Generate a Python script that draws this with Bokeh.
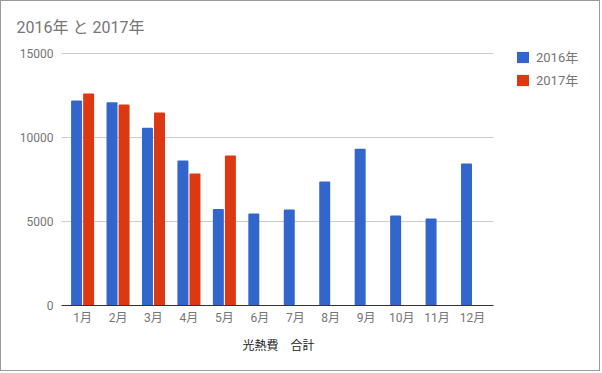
from bokeh.plotting import figure
from bokeh.models import (ColumnDataSource, Range1d, FixedTicker, Legend, LegendItem, Grid, Title)
from bokeh.transform import dodge
from bokeh.embed import file_html
from bokeh.resources import INLINE

months = ["1月", "2月", "3月", "4月", "5月", "6月", "7月", "8月", "9月", "10月", "11月", "12月"]
values_2016 = [12200, 12100, 10580, 8630, 5750, 5470, 5710, 7380, 9330, 5360, 5180, 8450]
months_2017 = ["1月", "2月", "3月", "4月", "5月"]
values_2017 = [12620, 11960, 11490, 7860, 8930]
y_ticks = [0, 5000, 10000, 15000]

FONT = "Roboto, 'Noto Sans CJK JP'"
GRAY = "#757575"

idx = {m: i for i, m in enumerate(months)}
src16 = ColumnDataSource(dict(x=[idx[m] for m in months], m=months, v=values_2016))
src17 = ColumnDataSource(dict(x=[idx[m] for m in months_2017], m=months_2017, v=values_2017))

# layout geometry (pixels)
W, H = 600, 371
LEFT, TOP, BOTTOM = 60, 44, 67
CAT_PX = 35.45                     # pixels per month
X0 = -0.595                        # left edge of the bar area in month units
X_AXIS_END = X0 + 432 / CAT_PX     # right edge of the bar area
X_END = X0 + (W - LEFT) / CAT_PX   # frame extends to the right for the legend
Y_TOP = 15000 * (1 + 8 / 252)

p = figure(
    width=W, height=H,
    x_range=Range1d(X0, X_END), y_range=Range1d(0, Y_TOP),
    output_backend="svg", toolbar_location=None,
    min_border_left=LEFT, min_border_right=0, min_border_top=TOP, min_border_bottom=BOTTOM,
    styles={"border": "1px solid #9a9a9a"},
)
p.outline_line_color = None

r16 = p.vbar(x=dodge("x", -0.17), top="v", width=0.31, source=src16,
             fill_color="#3366cc", line_color=None, border_radius=1)
r17 = p.vbar(x=dodge("x", 0.17), top="v", width=0.31, source=src17,
             fill_color="#dc3912", line_color=None, border_radius=1)

# title
p.title.text = "2016年 と 2017年"
p.title.align = "left"
p.title.offset = -45
p.title.text_font = FONT
p.title.text_font_size = "16px"
p.title.text_font_style = "normal"
p.title.text_color = GRAY
p.title.standoff = 18

# y axis
p.yaxis.ticker = FixedTicker(ticks=y_ticks)
p.yaxis.axis_line_color = None
p.yaxis.major_tick_line_color = None
p.yaxis.major_tick_out = 0
p.yaxis.major_tick_in = 0
p.yaxis.minor_tick_line_color = None
p.yaxis.major_label_standoff = 8
p.yaxis.major_label_text_font = FONT
p.yaxis.major_label_text_font_size = "12px"
p.yaxis.major_label_text_color = GRAY
p.ygrid.ticker = FixedTicker(ticks=y_ticks)
p.ygrid.grid_line_color = "#cccccc"
if "cross_bounds" in Grid.properties():
    p.ygrid.cross_bounds = (X0, X_AXIS_END)
p.xgrid.grid_line_color = None

# x axis
p.xaxis.ticker = FixedTicker(ticks=list(range(len(months))))
p.xaxis.major_label_overrides = {i: m for i, m in enumerate(months)}
p.xaxis.bounds = (X0, X_AXIS_END)
p.xaxis.axis_line_color = "#333333"
p.xaxis.major_tick_line_color = None
p.xaxis.major_tick_out = 0
p.xaxis.major_tick_in = 0
p.xaxis.minor_tick_line_color = None
p.xaxis.major_label_standoff = 5
p.xaxis.major_label_text_font = FONT
p.xaxis.major_label_text_font_size = "12px"
p.xaxis.major_label_text_color = GRAY

# x axis title (placed as a below-title so that it centres under the bar area)
xtitle = Title(text="光熱費　合計", align="left", offset=181, standoff=19,
               text_font=FONT, text_font_size="12px", text_font_style="normal",
               text_color="#222222")
p.add_layout(xtitle, "below")

legend = Legend(items=[LegendItem(label="2016年", renderers=[r16]),
                       LegendItem(label="2017年", renderers=[r17])],
                location=(454, 216), margin=0, padding=0, spacing=4,
                glyph_width=15, glyph_height=14, label_height=18, label_standoff=6,
                label_text_font=FONT, label_text_font_size="13px", label_text_color=GRAY,
                border_line_color=None, background_fill_alpha=0)
p.add_layout(legend, "center")

open("out.html", "w").write(file_html(p, INLINE))
